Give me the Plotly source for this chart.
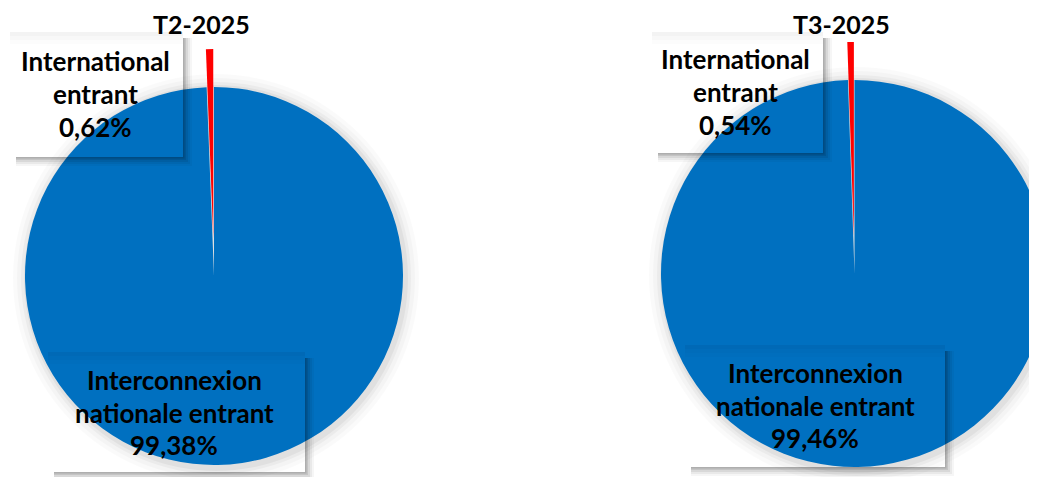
import math
import plotly.graph_objects as go

# ---------------- data ----------------
periods = ["T2-2025", "T3-2025"]
categories = ["Interconnexion nationale entrant", "International entrant"]
national_share = [99.38, 99.46]
international_share = [0.62, 0.54]

# ---------------- layout / style ----------------
W, H = 1060, 477          # figure a bit wider than the window: right pie is cut at the edge
OFF = 8                   # page body margin
BLUE = "#0070C0"
RED = "#FF0000"
FONT = "Lato"
PULL_PX = 38

# per chart geometry in screen pixels (centre x, centre y, radius)
pie_geom = [(214, 276, 189), (854.5, 273.5, 193.5)]
title_x = [201, 841]
# label boxes (x0, y0, x1, y1) in screen px
intl_box = [(10, 32, 183, 157), (652, 32, 823, 153)]
nat_box = [(48, 352, 305, 472), (685, 345, 945, 467)]
intl_text = [(95, [61, 94, 127]), (735, [59, 92, 125])]
nat_text = [(174, [380, 413, 445]), (815, [373, 406, 438])]


def fx(x):
    return (x - OFF) / W


def fy(y):
    return 1 - (y - OFF) / H


def fmt(v):
    return f"{v:.2f}".replace(".", ",") + "%"


fig = go.Figure()
shapes = []
annotations = []

for i, period in enumerate(periods):
    cx, cy, r = pie_geom[i]
    vals = [national_share[i], international_share[i]]

    # soft glow around pie
    for k, op in [(14, 0.02), (10, 0.025), (6, 0.035), (3, 0.045)]:
        shapes.append(dict(type="circle", xref="paper", yref="paper",
                           x0=fx(cx - r - k + 2), x1=fx(cx + r + k + 2),
                           y0=fy(cy + r + k + 3), y1=fy(cy - r - k + 1),
                           fillcolor=f"rgba(0,0,0,{op})", line=dict(width=0),
                           layer="below"))

    # main (blue) pie with the international slice left empty
    fig.add_trace(go.Pie(
        labels=categories, values=vals, sort=False, direction="clockwise",
        rotation=0, textinfo="none", hoverinfo="label+percent",
        marker=dict(colors=[BLUE, "rgba(0,0,0,0)"], line=dict(width=0)),
        domain=dict(x=[fx(cx - r), fx(cx + r)], y=[fy(cy + r), fy(cy - r)]),
        showlegend=False,
    ))

    # exploded international slice: same pie shifted along the slice mid-angle
    frac = vals[1] / sum(vals)
    mid = -frac * math.pi  # radians clockwise from 12 o'clock (left of top)
    dx = PULL_PX * math.sin(mid)
    dy = -PULL_PX * math.cos(mid)
    rcx, rcy = cx + dx, cy + dy
    fig.add_trace(go.Pie(
        labels=categories, values=vals, sort=False, direction="clockwise",
        rotation=0, textinfo="none", hoverinfo="label+percent",
        marker=dict(colors=["rgba(0,0,0,0)", RED], line=dict(width=0)),
        domain=dict(x=[fx(rcx - r), fx(rcx + r)], y=[fy(rcy + r), fy(rcy - r)]),
        showlegend=False,
    ))

    # titles (anchored to the top edge of the figure)
    annotations.append(dict(text=f"<b>{period}</b>", x=fx(title_x[i]), y=1,
                            xref="paper", yref="paper", showarrow=False,
                            xanchor="center", yanchor="top", borderpad=0,
                            font=dict(family=FONT, size=25, color="black")))

    # label box shadows (soft, bottom-right) and faint top shading
    for (x0, y0, x1, y1) in (intl_box[i], nat_box[i]):
        for k, op in [(9, 0.035), (7, 0.05), (5, 0.07), (3, 0.09), (1.5, 0.11)]:
            shapes.append(dict(type="rect", xref="paper", yref="paper",
                               x0=fx(x1), x1=fx(x1 + k), y0=fy(y1 + k), y1=fy(y0 + 6),
                               fillcolor=f"rgba(0,0,0,{op})", line=dict(width=0),
                               layer="above"))
            shapes.append(dict(type="rect", xref="paper", yref="paper",
                               x0=fx(x0 + 6), x1=fx(x1), y0=fy(y1 + k), y1=fy(y1),
                               fillcolor=f"rgba(0,0,0,{op})", line=dict(width=0),
                               layer="above"))
        for k, op in [(12, 0.012), (8, 0.015), (4, 0.02)]:
            shapes.append(dict(type="rect", xref="paper", yref="paper",
                               x0=fx(x0), x1=fx(x1), y0=fy(y0 + k), y1=fy(y0),
                               fillcolor=f"rgba(0,0,0,{op})", line=dict(width=0),
                               layer="above"))

    # label texts
    ix, iys = intl_text[i]
    for line, yy in zip(["International", "entrant", fmt(international_share[i])], iys):
        annotations.append(dict(text=f"<b>{line}</b>", x=fx(ix), y=fy(yy),
                                xref="paper", yref="paper", showarrow=False,
                                xanchor="center", yanchor="middle",
                                font=dict(family=FONT, size=26, color="black")))
    nx, nys = nat_text[i]
    for line, yy in zip(["Interconnexion", "nationale entrant", fmt(national_share[i])], nys):
        annotations.append(dict(text=f"<b>{line}</b>", x=fx(nx), y=fy(yy),
                                xref="paper", yref="paper", showarrow=False,
                                xanchor="center", yanchor="middle",
                                font=dict(family=FONT, size=26, color="black")))

fig.update_layout(
    width=W, height=H, autosize=False,
    margin=dict(l=0, r=0, t=0, b=0),
    paper_bgcolor="white", plot_bgcolor="white",
    shapes=shapes, annotations=annotations,
)

fig.write_html("out.html")
